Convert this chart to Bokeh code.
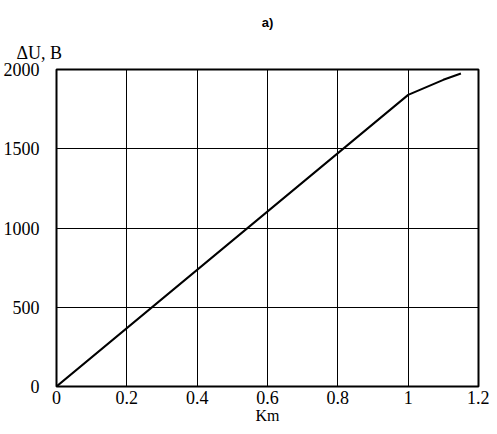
from bokeh.plotting import figure
from bokeh.models import FixedTicker, Range1d, Title
from bokeh.embed import file_html
from bokeh.resources import INLINE

km = [0.0, 1.0, 1.1, 1.15]
du = [0, 1840, 1935, 1975]
x_ticks = [0, 0.2, 0.4, 0.6, 0.8, 1.0, 1.2]
x_tick_labels = ["0", "0.2", "0.4", "0.6", "0.8", "1", "1.2"]
y_ticks = [0, 500, 1000, 1500, 2000]

W, H = 489, 426
p = figure(width=W, height=H, output_backend="svg", toolbar_location=None,
           x_range=Range1d(0, 1.2), y_range=Range1d(0, 2000), title=None,
           min_border_left=55, min_border_right=11, min_border_top=69, min_border_bottom=39)

p.line(km, du, line_color="black", line_width=2)

p.outline_line_color = "black"
p.outline_line_width = 2
p.outline_line_alpha = 1

for ax in (p.xaxis[0], p.yaxis[0]):
    ax.axis_line_color = None
    ax.major_tick_line_color = None
    ax.minor_tick_line_color = None
    ax.major_tick_out = 0
    ax.major_tick_in = 0
    ax.minor_tick_out = 0
    ax.minor_tick_in = 0
    ax.major_label_text_font = "Liberation Serif"
    ax.major_label_text_font_size = "18px"
    ax.major_label_text_color = "black"

p.xaxis.ticker = FixedTicker(ticks=x_ticks)
p.xaxis.major_label_overrides = {t: l for t, l in zip(x_ticks, x_tick_labels)}
p.xaxis.major_label_standoff = 4
p.xaxis.axis_label = "Km"
p.xaxis.axis_label_text_font = "Liberation Serif"
p.xaxis.axis_label_text_font_size = "16px"
p.xaxis.axis_label_text_font_style = "normal"
p.xaxis.axis_label_text_color = "black"
p.xaxis.axis_label_standoff = 0

p.yaxis.ticker = FixedTicker(ticks=y_ticks)
p.yaxis.major_label_overrides = {t: str(t) for t in y_ticks}
p.yaxis.major_label_standoff = 17

p.xgrid.ticker = FixedTicker(ticks=x_ticks)
p.ygrid.ticker = FixedTicker(ticks=y_ticks)
for g in (p.xgrid[0], p.ygrid[0]):
    g.grid_line_color = "black"
    g.grid_line_alpha = 1
    g.grid_line_width = 1

p.add_layout(Title(text="\u0394U, B", align="left", offset=-40,
                   text_font="Liberation Serif", text_font_size="18px",
                   text_font_style="normal", text_color="black", standoff=13), "above")
p.add_layout(Title(text="a)", align="center",
                   text_font="Liberation Sans", text_font_size="13px",
                   text_font_style="bold", text_color="black", standoff=10), "above")

p.background_fill_color = "white"
p.border_fill_color = "white"

open("out.html", "w").write(file_html(p, INLINE))
